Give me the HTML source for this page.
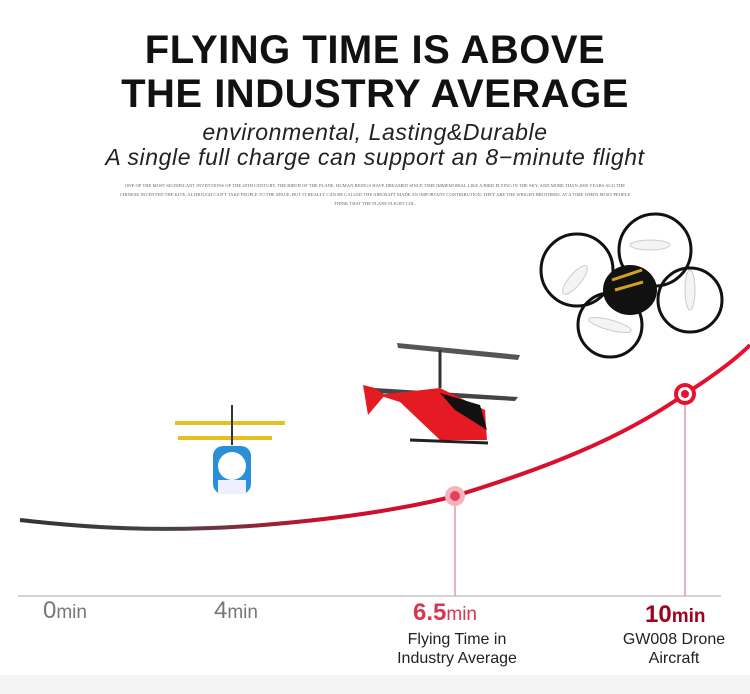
<!DOCTYPE html>
<html><head><meta charset="utf-8"><style>
body{margin:0;width:750px;height:694px;background:#fff;overflow:hidden;position:relative;font-family:"Liberation Sans",sans-serif}
.t{position:absolute;left:0;width:750px;text-align:center}
</style></head><body>
<div class="t" style="top:28px;font-size:40px;font-weight:bold;line-height:44px;color:#111;letter-spacing:0.5px">FLYING TIME IS ABOVE<br>THE INDUSTRY AVERAGE</div>
<div class="t" style="top:120px;font-size:23px;font-style:italic;line-height:25px;color:#222;letter-spacing:0.6px">environmental, Lasting&amp;Durable<br>A single full charge can support an 8−minute flight</div>
<div class="t" style="top:181px;font-size:4.6px;line-height:9px;color:#666;font-family:'Liberation Serif',serif;left:115px;width:520px">ONE OF THE MOST SIGNIFICANT INVENTIONS OF THE 20TH CENTURY, THE BIRTH OF THE PLANE. HUMAN BEINGS HAVE DREAMED SINCE TIME IMMEMORIAL LIKE A BIRD FLYING IN THE SKY. AND MORE THAN 2000 YEARS AGO THE CHINESE INVENTED THE KITE, ALTHOUGH CAN'T TAKE PEOPLE TO THE SPACE, BUT IT REALLY CAN BE CALLED THE AIRCRAFT MADE AN IMPORTANT CONTRIBUTION, THEY ARE THE WRIGHT BROTHERS. AT A TIME WHEN MOST PEOPLE THINK THAT THE PLANE FLIGHT COL.</div>
<svg width="750" height="694" style="position:absolute;left:0;top:0">
<defs><linearGradient id="g" x1="0" x2="1"><stop offset="0" stop-color="#333"/><stop offset="0.2" stop-color="#444"/><stop offset="0.42" stop-color="#c8102e"/><stop offset="1" stop-color="#e8102e"/></linearGradient></defs>
<rect x="0" y="675" width="750" height="19" fill="#f4f4f4"/>
<line x1="18" y1="596" x2="721" y2="596" stroke="#aaa" stroke-width="1"/>
<line x1="455" y1="496" x2="455" y2="596" stroke="#e49aa6" stroke-width="1.5"/>
<line x1="685" y1="394" x2="685" y2="596" stroke="#e49aa6" stroke-width="1.5"/>
<path d="M20 520 C90 528,160 532,250 526 C330 520,400 510,455 496 C540 470,620 440,685 394 C710 378,735 360,750 345" fill="none" stroke="url(#g)" stroke-width="4"/>
<circle cx="455" cy="496" r="10" fill="#f4b4bf"/><circle cx="455" cy="496" r="5" fill="#e8405a"/>
<circle cx="685" cy="394" r="11" fill="#e8102e"/><circle cx="685" cy="394" r="7" fill="#fff"/><circle cx="685" cy="394" r="4" fill="#e8102e"/>
<g><line x1="175" y1="423" x2="285" y2="423" stroke="#e6c020" stroke-width="4"/><line x1="178" y1="438" x2="272" y2="438" stroke="#e6c020" stroke-width="4"/><line x1="232" y1="405" x2="232" y2="445" stroke="#333" stroke-width="2"/><rect x="213" y="446" width="38" height="48" rx="10" fill="#2b8fd6"/><ellipse cx="232" cy="466" rx="14" ry="14" fill="#fff"/><rect x="218" y="480" width="28" height="14" fill="#eef"/></g>
<g><polygon points="397,343 520,355 518,360 398,348" fill="#555"/><line x1="440" y1="350" x2="440" y2="388" stroke="#333" stroke-width="3"/><polygon points="375,388 518,397 515,401 375,393" fill="#444"/><polygon points="363,385 375,388 385,395 368,415" fill="#e41b23"/><polygon points="378,395 440,388 485,410 487,440 440,440 400,402" fill="#e41b23"/><polygon points="440,393 480,405 487,430 455,410" fill="#111"/><line x1="410" y1="440" x2="488" y2="443" stroke="#222" stroke-width="3"/></g>
<g fill="none" stroke="#111" stroke-width="3"><circle cx="577" cy="270" r="36"/><circle cx="655" cy="250" r="36"/><circle cx="690" cy="300" r="32"/><circle cx="610" cy="325" r="32"/></g>
<ellipse cx="630" cy="290" rx="27" ry="25" fill="#111"/>
<path d="M612 280 l30 -10 M615 290 l28 -8" stroke="#d4a020" stroke-width="3"/>
<g fill="#f4f4f4" stroke="#ccc"><ellipse cx="575" cy="280" rx="6" ry="18" transform="rotate(40 575 280)"/><ellipse cx="650" cy="245" rx="20" ry="5"/><ellipse cx="690" cy="290" rx="5" ry="20"/><ellipse cx="610" cy="325" rx="22" ry="5" transform="rotate(15 610 325)"/></g>
<g font-family="Liberation Sans,sans-serif">
<text x="43" y="618" font-size="24" fill="#777">0<tspan font-size="19">min</tspan></text>
<text x="214" y="618" font-size="24" fill="#777">4<tspan font-size="19">min</tspan></text>
<text x="413" y="620" font-size="24" font-weight="bold" fill="#d9374f">6.5<tspan font-size="19" font-weight="normal">min</tspan></text>
<text x="645" y="622" font-size="24" font-weight="bold" fill="#a3001b">10<tspan font-size="19">min</tspan></text>
<text x="457" y="644" font-size="16" fill="#222" text-anchor="middle">Flying Time in</text>
<text x="457" y="663" font-size="16" fill="#222" text-anchor="middle">Industry Average</text>
<text x="674" y="644" font-size="16" fill="#222" text-anchor="middle">GW008 Drone</text>
<text x="674" y="663" font-size="16" fill="#222" text-anchor="middle">Aircraft</text>
</g>
</svg>
</body></html>
